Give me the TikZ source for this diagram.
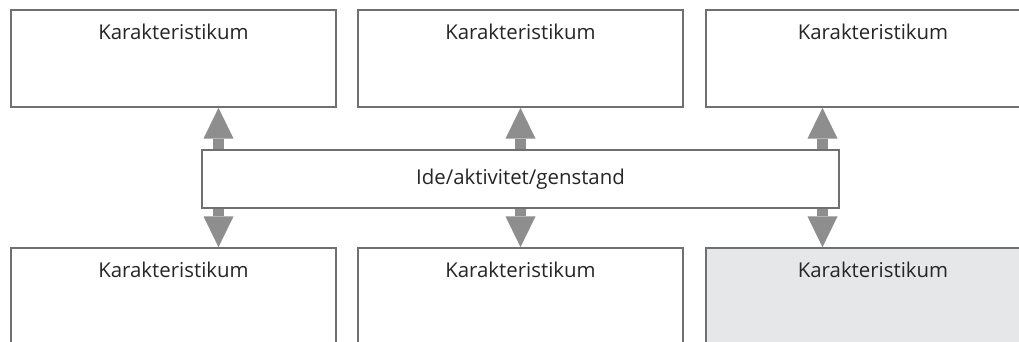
\documentclass[tikz,border=0pt]{standalone}
\usepackage{fontspec}
\setmainfont{Open Sans}
\usetikzlibrary{arrows.meta}

\definecolor{boxline}{RGB}{112,112,112}
\definecolor{arrowgray}{RGB}{142,142,142}
\definecolor{shadefill}{RGB}{230,231,232}

\tikzset{every picture/.style={line width=0.75pt}}
\tikzset{
  card/.style={draw=boxline, line width=1.3pt, fill=white, rectangle, inner sep=0pt,
    font=\fontsize{15.3pt}{18pt}\selectfont, text=black!85},
  topcard/.style={card, minimum width=243.75pt, text height=22.5pt, text depth=50.25pt},
  lowcard/.style={card, minimum width=243.75pt, text height=21.75pt, text depth=71.25pt},
  link/.style={draw=arrowgray, line width=8.25pt, -{Triangle[length=23pt,width=22.5pt,line width=0pt]}}
}

\begin{document}
\begin{tikzpicture}[x=0.75pt,y=0.75pt,yscale=-1,xscale=1]
\useasboundingbox (0,0) rectangle (1019,342);
\clip (0,0) rectangle (1019,342);

% top row
\node[topcard] (top1) at (173.5,58.5) {Karakteristikum};
\node[topcard] (top2) at (520.5,58.5) {Karakteristikum};
\node[topcard, minimum width=250.5pt] (top3) at (873,58.5) {Karakteristikum};

% centre
\node[card, minimum width=477.75pt, minimum height=43.5pt] (mid) at (520.5,179) {Ide/aktivitet/genstand};

% bottom row
\node[lowcard] (low1) at (173.5,310) {Karakteristikum};
\node[lowcard] (low2) at (520.5,310) {Karakteristikum};
\node[lowcard, fill=shadefill, minimum width=250.5pt] (low3) at (873,310) {Karakteristikum};

% double arrows
\draw[link] ([xshift=-226.5pt]mid.north) -- ([xshift=-226.5pt]mid.north |- top1.south);
\draw[link] (mid.north) -- (top2.south);
\draw[link] ([xshift=226.5pt]mid.north) -- ([xshift=226.5pt]mid.north |- top3.south);
\draw[link] ([xshift=-226.5pt]mid.south) -- ([xshift=-226.5pt]mid.south |- low1.north);
\draw[link] (mid.south) -- (low2.north);
\draw[link] ([xshift=226.5pt]mid.south) -- ([xshift=226.5pt]mid.south |- low3.north);

\end{tikzpicture}
\end{document}
